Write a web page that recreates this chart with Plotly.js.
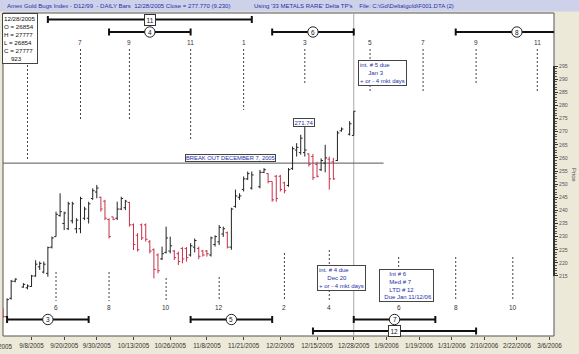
<!DOCTYPE html>
<html><head><meta charset="utf-8">
<script src="https://cdn.plot.ly/plotly-3.0.1.min.js"></script>
<style>html,body{margin:0;padding:0;background:#ece9d8;}#chart{width:579px;height:354px;}</style>
</head><body><div id="chart"></div>
<script>
// ---- data (x = weekday index from 8/29/2005) ----
const days  = [1,2,3,4,6,7,8,9,10,11,12,13,14,15,16,17,18,19,20,21,22,23,24,25,26,27,28,29,30,31,32,33,34,35,36,37,38,39,40,41,42,43,44,45,46,47,48,49,50,51,52,53,54,55,56,57,58,59,60,61,62,64,65,66,67,68,69,70,71,72,73,74,75,76,77,78,79,80,81,82,83,84,86,87];
const open  = [202.5,199.5,206.5,213.0,210.8,210.5,211.0,215.0,218.5,216.5,216.0,226.0,230.0,238.0,235.0,233.0,236.0,233.0,233.0,237.0,237.0,244.5,247.0,245.0,243.5,236.5,237.5,237.0,240.5,241.0,243.0,234.5,230.5,234.5,234.5,228.0,225.0,223.0,221.5,224.0,224.5,224.5,223.5,225.5,225.5,223.0,226.0,225.5,224.5,224.5,223.0,227.0,228.0,231.0,231.5,226.0,241.5,245.0,248.0,252.0,248.5,249.0,254.5,254.0,251.0,253.0,253.0,250.5,249.5,256.0,263.0,262.0,262.0,261.5,260.5,257.5,255.5,258.0,259.5,258.5,259.0,270.3,269.0,268.54];
const high  = [202.7,206.5,213.5,214.1,212.3,211.8,215.4,221.0,220.5,220.5,226.2,230.0,239.5,246.5,239.5,243.3,243.3,237.0,245.2,241.4,243.3,248.4,249.7,245.2,244.0,237.0,237.6,243.3,245.2,244.0,243.3,235.0,231.3,235.0,235.0,228.7,225.5,223.6,226.2,233.8,230.0,224.9,224.3,226.0,226.0,227.5,229.3,226.2,224.9,224.9,230.0,230.5,234.4,233.8,231.9,241.0,247.9,246.5,252.9,254.8,254.8,255.4,256.1,254.2,251.0,253.5,253.5,250.9,256.1,264.3,265.6,268.8,271.74,261.7,261.5,258.5,259.8,265.0,260.5,260.0,270.3,271.6,274.0,277.77];
const low   = [199.0,199.0,206.0,212.6,210.5,209.9,210.9,214.7,217.3,216.0,214.7,225.5,230.0,237.6,232.5,232.5,235.0,231.3,231.3,236.3,235.0,244.0,244.6,239.5,236.3,229.3,236.3,236.3,240.1,240.1,233.8,224.9,224.3,228.7,228.1,223.6,214.1,216.0,221.1,223.6,223.6,221.1,219.2,219.8,220.5,222.4,224.0,221.4,222.4,222.4,222.4,226.2,226.8,229.9,225.5,225.0,241.0,244.0,247.2,251.6,247.9,248.4,254.2,250.3,243.3,243.3,247.2,246.5,249.0,255.4,260.5,261.2,260.5,256.7,251.6,252.5,255.0,254.5,247.9,251.6,258.8,270.0,268.5,268.54];
const close = [199.5,206.0,213.0,213.8,211.8,211.2,215.0,219.5,219.8,219.5,225.8,229.5,238.5,239.5,239.0,242.5,242.5,236.3,244.5,240.5,242.5,247.5,248.5,240.5,237.0,230.0,236.6,240.5,244.5,243.5,234.5,227.0,225.0,229.5,229.0,224.5,217.5,217.0,223.5,229.5,226.5,222.0,220.5,221.5,222.0,226.5,228.5,222.5,223.0,223.5,229.5,230.0,233.5,233.0,226.0,240.5,245.5,245.5,252.0,254.0,253.5,254.5,255.5,251.0,244.0,244.5,248.0,247.5,255.5,263.5,264.0,267.5,263.0,257.5,252.5,253.0,259.0,260.0,252.0,252.0,269.5,271.0,273.0,277.77];

const xTickDays = [0,8,16,24,33,42,51,60,69,78,87,95,103,111,119,127,135];
const xTickText = ['8/29/2005','9/8/2005','9/20/2005','9/30/2005','10/13/2005','10/26/2005','11/8/2005','11/21/2005','12/2/2005','12/15/2005','12/28/2005','1/9/2006','1/19/2006','1/31/2006','2/10/2006','2/22/2006','3/6/2006'];
const yTickVals = [215,220,225,230,235,240,245,250,255,260,265,270,275,280,285,290,295];

// cycle bands
const cycleStart = [12,27,67,112,2,47,87,77];
const cycleEnd   = [62,47,87,142,22,67,107,117];
const cycleLabel = ['11','4','6','8','3','5','7','12'];
const cycleRow   = [0,1,1,1,2,2,2,3];
const cycleMark  = ['square','circle','circle','circle','circle','circle','circle','square'];

// projection (dotted) lines; the first top label is hidden behind the OHLC box in the reference
const topNum   = ['','7','9','11','1','3','5','7','9','11'];
const topDay   = [7,20,32,47,60,75,91,104,117,132];
const topEndPx = [160,120,121,139,110,85,93,93,83,93];
const botNum   = ['6','8','10','12','2','4','6','8','10'];
const botDay   = [14,27,41,54,70,81,98,112,126];
const botTopPx = [272,272,278,277,253,250,257,257,257];

const breakoutLevel = 258;
const breakoutEndDay = 94.3;
const todayDay = 87;

// ---- layout geometry helpers ----
const L = 3, T = 13, W = 551, H = 323;
const px = v => (v - L) / W;
const py = v => (T + H - v) / H;
const rowPx = [19.5, 32, 319.5, 331];
const xr = [1.0, 136.1];
const FONT = 'Liberation Sans, Arial, sans-serif';
const BLUE = '#2430a8';

const shapes = [];
const ann = [];
const txt = (o) => Object.assign({showarrow:false, xanchor:'center', yanchor:'middle'}, o);

// header band
shapes.push({type:'rect', xref:'paper', yref:'paper', x0:px(0), x1:px(579), y0:py(11.5), y1:py(0), fillcolor:'#cdd2ea', line:{width:0}, layer:'below'});
ann.push(txt({xref:'paper', yref:'paper', x:px(5), y:py(6), xanchor:'left',
  text:'Amex Gold Bugs Index - D12/99  - DAILY Bars  12/28/2005 Close = 277.770 (9.230)', font:{family:FONT, size:6, color:BLUE}}));
ann.push(txt({xref:'paper', yref:'paper', x:px(252), y:py(6), xanchor:'left',
  text:"Using '33 METALS RARE' Delta TP's    File: C:\\Gd\\Delta\\gold\\F001.DTA (2)", font:{family:FONT, size:6, color:BLUE}}));

// plot frame
shapes.push({type:'rect', xref:'paper', yref:'paper', x0:0, x1:1, y0:0, y1:1, line:{color:'#555', width:1}, layer:'below'});
// right axis line only over labelled range
shapes.push({type:'line', xref:'paper', yref:'y', x0:1, x1:1, y0:yTickVals[0], y1:yTickVals[yTickVals.length-1], line:{color:'#333', width:2}});
// today line
shapes.push({type:'line', xref:'x', yref:'paper', x0:todayDay, x1:todayDay, y0:0, y1:1, line:{color:'#a8a8a8', width:1}, layer:'below'});
// breakout line
shapes.push({type:'line', xref:'x', yref:'y', x0:xr[0], x1:breakoutEndDay, y0:breakoutLevel, y1:breakoutLevel, line:{color:'#555', width:1}, layer:'below'});

// dotted projection lines
topDay.forEach((d,k)=>{
  shapes.push({type:'line', xref:'x', yref:'paper', x0:d, x1:d, y0:py(49), y1:py(topEndPx[k]), line:{color:'#444', width:1, dash:'2px,2px'}, layer:'below'});
  if (topNum[k]) ann.push(txt({xref:'x', yref:'paper', x:d, y:py(43), text:topNum[k], font:{family:FONT, size:6.5, color:'#333'}}));
});
botDay.forEach((d,k)=>{
  shapes.push({type:'line', xref:'x', yref:'paper', x0:d, x1:d, y0:py(botTopPx[k]), y1:py(301), line:{color:'#444', width:1, dash:'2px,2px'}, layer:'below'});
  ann.push(txt({xref:'x', yref:'paper', x:d, y:py(307.5), text:botNum[k], font:{family:FONT, size:6.5, color:'#333'}}));
});

// cycle bands
cycleStart.forEach((s,k)=>{
  const e = cycleEnd[k], yy = py(rowPx[cycleRow[k]]), mid = (s+e)/2;
  shapes.push({type:'line', xref:'x', yref:'paper', x0:s, x1:e, y0:yy, y1:yy, line:{color:'#111', width:2}});
  [s,e].forEach(v=>shapes.push({type:'line', xref:'x', yref:'paper', ysizemode:'pixel', yanchor:yy, x0:v, x1:v, y0:-3.5, y1:3.5, line:{color:'#111', width:2}}));
  if (cycleMark[k]==='circle') {
    shapes.push({type:'circle', xref:'x', yref:'paper', xsizemode:'pixel', ysizemode:'pixel', xanchor:mid, yanchor:yy, x0:-5.2, x1:5.2, y0:-5.2, y1:5.2, fillcolor:'white', line:{color:'#222', width:1}});
    ann.push(txt({xref:'x', yref:'paper', x:mid, y:yy, text:cycleLabel[k], font:{family:FONT, size:6.5, color:'#111'}}));
  } else {
    ann.push(txt({xref:'x', yref:'paper', x:mid, y:yy, text:cycleLabel[k], bgcolor:'white', bordercolor:'#333', borderwidth:1, borderpad:1.5, font:{family:FONT, size:6.5, color:'#111'}}));
  }
});

// text boxes
function box(text, xl, yt, size, color, align, pad) {
  return {xref:'paper', yref:'paper', x:px(xl), y:py(yt), xanchor:'left', yanchor:'top', text, showarrow:false, align:align||'left',
    bgcolor:'white', bordercolor:'#444', borderwidth:1, borderpad:pad===undefined?1:pad, font:{family:FONT, size, color}};
}
const sp = '\u00a0';
ann.push(box('int. # 5 due<br>'+sp.repeat(5)+'Jan 3<br>+ or - 4 mkt days', 357.5, 60, 6, BLUE));
ann.push(box('int. # 4 due<br>'+sp.repeat(5)+'Dec 20<br>+ or - 4 mkt days', 316.5, 264.5, 6, BLUE));
ann.push(box(sp.repeat(5)+'Int # 6<br>'+sp.repeat(5)+'Med # 7<br>'+sp.repeat(5)+'LTD # 12<br>'+sp.repeat(2)+'Due Jan 11/12/06', 379, 268.5, 6, BLUE));
ann.push(box('BREAK OUT DECEMBER 7, 2005', 185, 154, 5.8, BLUE, 'left', 0));
ann.push(box('271.74', 293, 118, 6, BLUE, 'left', 0.5));
ann.push(box('12/28/2005<br>O = 26854<br>H = 27777<br>L = 26854<br>C = 27777<br>'+sp.repeat(4)+'923', 2, 13, 6.2, '#111', 'left', 1));

// first tick label sits left of the plot edge
xTickDays.forEach((d,k)=>{
  if (d < xr[0]) ann.push(txt({xref:'paper', yref:'paper', x:(d - xr[0])/(xr[1]-xr[0]), y:py(341), yanchor:'top', text:xTickText[k], font:{family:FONT, size:6.3, color:'#333'}}));
});

// price title
ann.push(txt({xref:'paper', yref:'paper', x:px(574), y:py(175), text:'Price', textangle:90, font:{family:FONT, size:6, color:'#444'}}));

const trace = {
  type:'ohlc', x:days, open, high, low, close,
  increasing:{line:{color:'#222', width:1}},
  decreasing:{line:{color:'#c8304a', width:1}},
  tickwidth:0.45, hoverinfo:'none', showlegend:false
};

const layout = {
  width:579, height:354, autosize:false,
  margin:{l:L, r:579-L-W, t:T, b:354-T-H, pad:0},
  paper_bgcolor:'#ece9d8', plot_bgcolor:'white',
  font:{family:FONT, color:'#333'},
  showlegend:false,
  xaxis:{range:xr, tickmode:'array', tickvals:xTickDays, ticktext:xTickText, ticks:'outside', ticklen:3, tickcolor:'#444',
    tickangle:0, tickfont:{size:6.3, color:'#333'}, showgrid:false, zeroline:false, showline:false, rangeslider:{visible:false}, fixedrange:true},
  yaxis:{side:'right', range:[192.14, 315.19], tickmode:'array', tickvals:yTickVals, ticks:'outside', ticklen:3, tickcolor:'#333',
    minor:{tickmode:'array', tickvals:[216,217,218,219,221,222,223,224,226,227,228,229,231,232,233,234,236,237,238,239,241,242,243,244,246,247,248,249,251,252,253,254,256,257,258,259,261,262,263,264,266,267,268,269,271,272,273,274,276,277,278,279,281,282,283,284,286,287,288,289,291,292,293,294], ticks:'outside', ticklen:1.5, tickcolor:'#555'},
    tickfont:{size:5.2, color:'#555'}, showgrid:false, zeroline:false, showline:false, fixedrange:true},
  shapes, annotations:ann
};

Plotly.newPlot('chart', [trace], layout, {staticPlot:true, displayModeBar:false});
</script></body></html>
